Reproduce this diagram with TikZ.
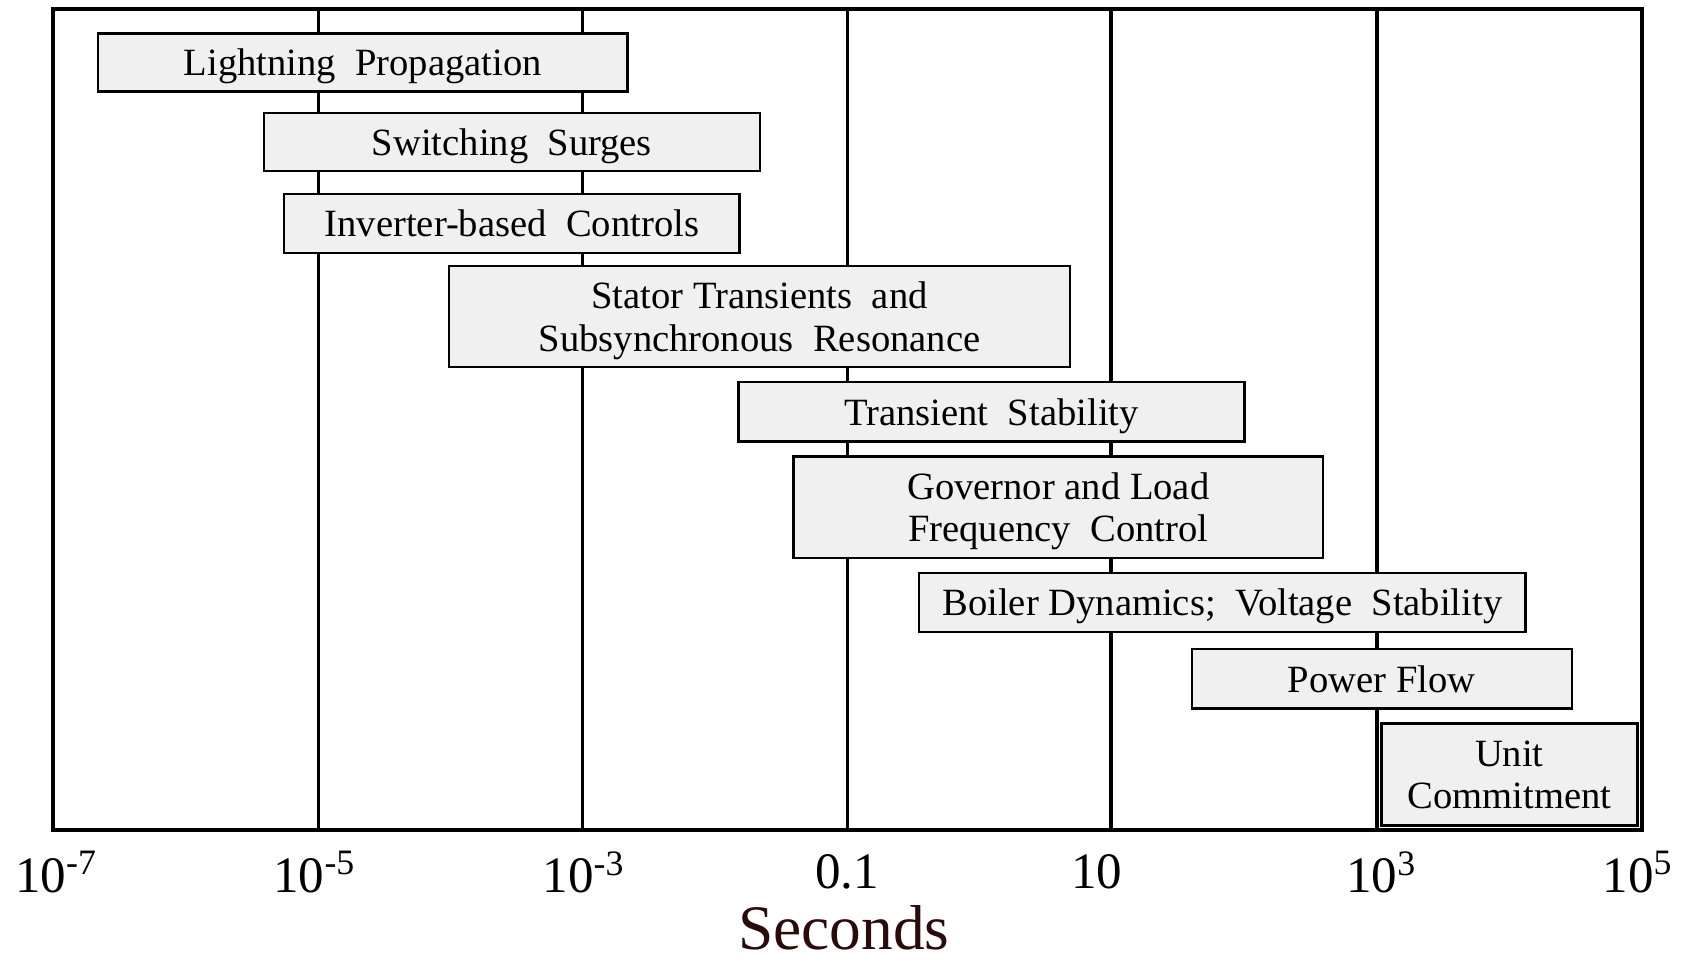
\documentclass[tikz,border=0pt]{standalone}
\usepackage{fontspec}
\setmainfont{Liberation Serif}
\definecolor{boxgray}{HTML}{F0F0F0}
\definecolor{secbrown}{HTML}{2A0A0A}
\tikzset{
  frame/.style={line width=2pt},
  decade/.style={line width=1.7pt},
  study/.style={draw, line width=1.2pt, fill=boxgray, align=center, inner sep=0pt,
    text depth=0pt, font=\fontsize{20.4}{22.4}\selectfont},
  ticklab/.style={font=\fontsize{27}{29}\selectfont}
}
\begin{document}
\begin{tikzpicture}[x=0.2mm, y=-0.2mm, line join=miter]
			\useasboundingbox (0,0) rectangle (1568,894);
			% decade lines
			\foreach \x in {296,541,787,1032,1279}
			  \draw[decade] (\x,8)--(\x,771);
			\draw[frame] (49,8) rectangle (1525,771);
			% studies
			\node[study, minimum width=98.4mm, minimum height=10.8mm] (lp) at (337,58) {Lightning\ \ Propagation};
			\node[study, minimum width=92.2mm, minimum height=10.8mm] (ss) at (475.5,132) {Switching\ \ Surges};
			\node[study, minimum width=84.6mm, minimum height=11mm] (ibc) at (475.5,207.5) {Inverter-based\ \ Controls};
			\node[study, minimum width=115.4mm, minimum height=18.8mm] (st) at (705.5,294) {Stator Transients\ \ and\\Subsynchronous\ \ Resonance};
			\node[study, minimum width=94mm, minimum height=11mm] (ts) at (921,382.5) {Transient\ \ Stability};
			\node[study, minimum width=98.4mm, minimum height=18.8mm] (gov) at (983,471) {Governor and Load\\Frequency\ \ Control};
			\node[study, minimum width=112.6mm, minimum height=11mm] (bd) at (1135.5,559.5) {Boiler Dynamics;\ \ Voltage\ \ Stability};
			\node[study, minimum width=70.6mm, minimum height=11mm] (pf) at (1283.5,630.5) {Power Flow};
			\node[study, line width=1.8pt, minimum width=47.6mm, minimum height=19mm] (uc) at (1402,719.5) {Unit\\Commitment};
			% time axis
			\foreach \x/\lab [count=\i] in {52/10\textsuperscript{-7}, 292/10\textsuperscript{-5}, 542/10\textsuperscript{-3},
			  787/0.1, 1019/10, 1283/10\textsuperscript{3}, 1521/10\textsuperscript{5}}
			  \node[ticklab] (t\i) at (\x,810) {\lab};
			\node[secbrown, font=\fontsize{33.5}{35}\selectfont] (sec) at (784,862) {Seconds};
		\end{tikzpicture}
\end{document}
